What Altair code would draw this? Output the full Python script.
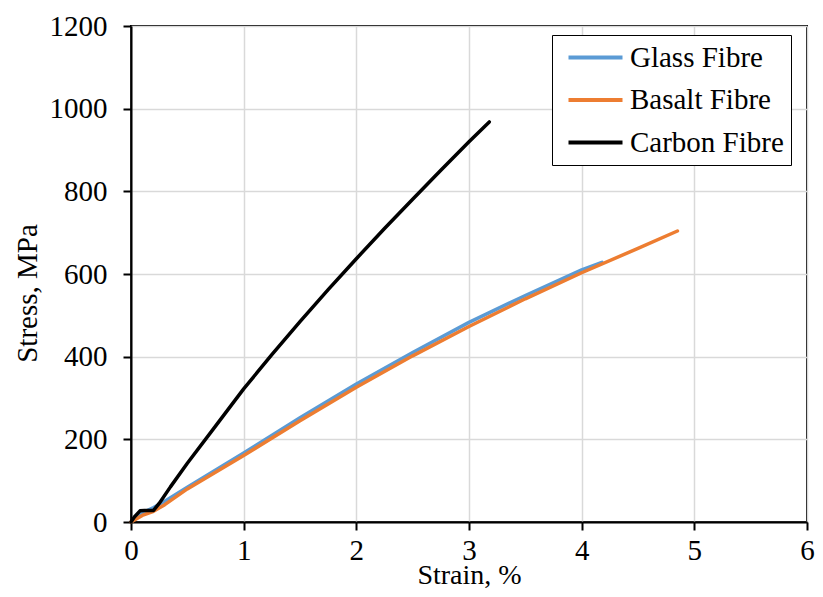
import altair as alt
import pandas as pd

glass_strain = [0, 0.05, 0.1, 0.2, 0.3, 0.5, 1.0, 1.5, 2.0, 2.5, 3.0, 3.5, 4.0, 4.18]
glass_stress = [0, 12, 22, 35, 50, 84, 167, 252, 334, 410, 483, 548, 610, 628]

basalt_strain = [0, 0.05, 0.1, 0.2, 0.3, 0.5, 1.0, 1.5, 2.0, 2.5, 3.0, 3.5, 4.0, 4.5, 4.85]
basalt_stress = [0, 8, 16, 26, 42, 80, 161, 245, 326, 402, 473, 540, 603, 662, 704]

carbon_strain = [0, 0.03, 0.08, 0.12, 0.2, 0.25, 0.35, 0.5, 0.75, 1.0, 1.25, 1.5, 1.75,
                 2.0, 2.25, 2.5, 2.75, 3.0, 3.18]
carbon_stress = [0, 12, 27, 28, 28, 45, 85, 142, 232, 322, 405, 485, 562,
                 637, 710, 781, 851, 920, 968]

series = ["Glass Fibre", "Basalt Fibre", "Carbon Fibre"]
colors = ["#5B9BD5", "#ED7D31", "#000000"]

rows = []
for name, xs, ys in [("Glass Fibre", glass_strain, glass_stress),
                     ("Basalt Fibre", basalt_strain, basalt_stress),
                     ("Carbon Fibre", carbon_strain, carbon_stress)]:
    for i, (x, y) in enumerate(zip(xs, ys)):
        rows.append({"series": name, "strain": x, "stress": y, "order": i})
df = pd.DataFrame(rows)

FONT = "Liberation Serif"
FS = 29

chart = alt.Chart(df).mark_line(strokeWidth=3.5, strokeCap="round", strokeJoin="round").encode(
    x=alt.X("strain:Q", title="Strain, %",
            scale=alt.Scale(domain=[0, 6], nice=False),
            axis=alt.Axis(values=[0, 1, 2, 3, 4, 5, 6], format="d", labelPadding=6,
                          labelFlush=False, titleY=61, titleFontSize=28,
                          titleBaseline="alphabetic")),
    y=alt.Y("stress:Q", title="Stress, MPa",
            scale=alt.Scale(domain=[0, 1200], nice=False),
            axis=alt.Axis(values=[0, 200, 400, 600, 800, 1000, 1200], format="d",
                          labelPadding=16, labelFlush=False,
                          titleX=-104, titleY=267, titleAngle=-90, titleBaseline="middle")),
    color=alt.Color("series:N", sort=series,
                    scale=alt.Scale(domain=series, range=colors),
                    legend=alt.Legend(title=None, orient="none", legendX=421, legendY=9,
                                      symbolType="M-2,0H2", symbolSize=729,
                                      symbolStrokeWidth=4, symbolOffset=21, labelOffset=19,
                                      labelExpr="datum.label + '\u00a0\u00a0\u00a0'",
                                      strokeColor="black", fillColor="white",
                                      padding=7, rowPadding=11.5,
                                      labelFont=FONT, labelFontSize=FS, labelColor="black")),
    order="order:Q",
    detail="series:N",
).properties(
    width=676, height=496,
    autosize=alt.AutoSizeParams(type="none"),
    padding={"left": 123, "top": 18, "right": 8, "bottom": 67},
).configure_view(
    stroke="black", strokeWidth=2
).configure_axis(
    labelFont=FONT, labelFontSize=FS, labelColor="black",
    titleFont=FONT, titleFontSize=FS, titleFontWeight="normal", titleColor="black",
    domainColor="black", domainWidth=2,
    tickColor="black", tickWidth=2, tickSize=8,
    gridColor="#D9D9D9", gridWidth=1.5,
)

chart.save("out.html", embed_options={"renderer": "svg", "actions": False})
